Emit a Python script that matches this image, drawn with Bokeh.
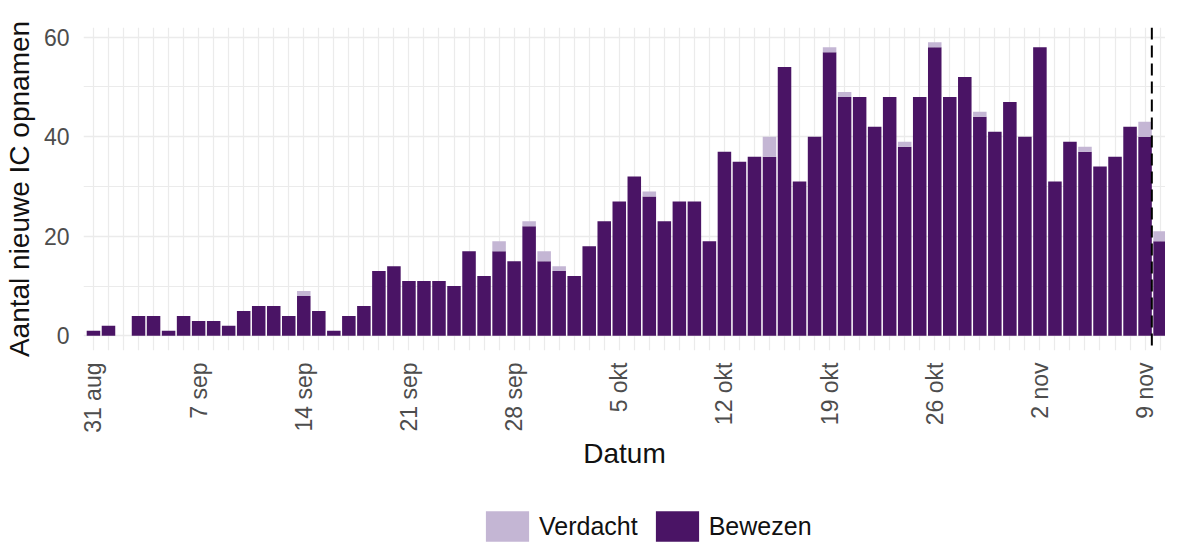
import math
import pandas as pd
from bokeh.plotting import figure
from bokeh.layouts import column
from bokeh.models import (ColumnDataSource, FixedTicker, Range1d, Span, Legend,
                          LegendItem)
from bokeh.embed import file_html
from bokeh.resources import INLINE

# ---- data -------------------------------------------------------------
start_date = "2020-08-31"
dates = pd.date_range(start_date, periods=73, freq="D")

bewezen = [1, 2, 0, 4, 4, 1, 4, 3, 3, 2, 5, 6, 6, 4, 8, 5, 1, 4, 6, 13,
           14, 11, 11, 11, 10, 17, 12, 17, 15, 22, 15, 13,
           12, 18, 23, 27, 32, 28, 23, 27, 27, 19,
           37, 35, 36, 36, 54, 31, 40, 57, 48,
           48, 42, 48, 38, 48, 58, 48, 52, 44, 41, 47, 40, 58, 31, 39, 37,
           34, 36, 42, 40, 19, 3]
verdacht = [0, 0, 0, 0, 0, 0, 0, 0, 0, 0, 0, 0, 0, 0, 1, 0, 0, 0, 0, 0,
            0, 0, 0, 0, 0, 0, 0, 2, 0, 1, 2, 1,
            0, 0, 0, 0, 0, 1, 0, 0, 0, 0,
            0, 0, 0, 4, 0, 0, 0, 1, 1,
            0, 0, 0, 1, 0, 1, 0, 0, 1, 0, 0, 0, 0, 0, 0, 1,
            0, 0, 0, 3, 2, 0]

tick_dates = ["2020-08-31", "2020-09-07", "2020-09-14", "2020-09-21",
              "2020-09-28", "2020-10-05", "2020-10-12", "2020-10-19",
              "2020-10-26", "2020-11-02", "2020-11-09"]
tick_labels = ["31 aug", "7 sep", "14 sep", "21 sep", "28 sep", "5 okt",
               "12 okt", "19 okt", "26 okt", "2 nov", "9 nov"]
cutoff_date = "2020-11-09"

y_ticks = [0, 20, 40, 60]
y_minor = [10, 30, 50]

# ---- derived ----------------------------------------------------------
t0 = pd.Timestamp(start_date)
day_index = [(d - t0).days for d in dates]
tick_pos = [(pd.Timestamp(d) - t0).days for d in tick_dates]
cutoff = (pd.Timestamp(cutoff_date) - t0).days

src = ColumnDataSource(dict(x=day_index, bewezen=bewezen, verdacht=verdacht))

DARK = "#4a1465"
LIGHT = "#c4b6d4"
GRID = "#ebebeb"
FONT = "Liberation Sans"

p = figure(width=1165, height=495, output_backend="svg", toolbar_location=None,
           x_range=Range1d(-0.663, 71.36), y_range=Range1d(-2.95, 61.95),
           min_border_left=79, min_border_right=0, min_border_top=27,
           min_border_bottom=145)
p.outline_line_color = None
p.background_fill_color = "white"

rs = p.vbar_stack(["bewezen", "verdacht"], x="x", width=0.9, color=[DARK, LIGHT],
                  line_color=None, source=src)

# grid
p.xgrid.ticker = FixedTicker(ticks=day_index)
p.xgrid.grid_line_color = GRID
p.xgrid.grid_line_width = 1.2
p.ygrid.ticker = FixedTicker(ticks=y_ticks, minor_ticks=y_minor)
p.ygrid.grid_line_color = GRID
p.ygrid.grid_line_width = 1.6
p.ygrid.minor_grid_line_color = GRID
p.ygrid.minor_grid_line_width = 1.0

# cutoff line
p.add_layout(Span(location=cutoff + 0.45, dimension="height", line_color="black",
                  line_width=2, line_dash="12 6"))

# axes
xa = p.xaxis[0]
xa.ticker = FixedTicker(ticks=tick_pos)
xa.major_label_overrides = {pos: lab for pos, lab in zip(tick_pos, tick_labels)}
xa.major_label_orientation = math.pi / 2
xa.axis_label = "Datum"
ya = p.yaxis[0]
ya.ticker = FixedTicker(ticks=y_ticks)
ya.axis_label = "Aantal nieuwe IC opnamen"
for ax in (xa, ya):
    ax.axis_line_color = None
    ax.major_tick_line_color = None
    ax.minor_tick_line_color = None
    ax.major_label_text_font = FONT
    ax.major_label_text_font_size = "23px"
    ax.major_label_text_color = "#4d4d4d"
    ax.axis_label_text_font = FONT
    ax.axis_label_text_font_size = "28px"
    ax.axis_label_text_font_style = "normal"
    ax.axis_label_text_color = "#111111"
xa.major_label_standoff = 6
xa.axis_label_standoff = 2
ya.major_label_standoff = 8
ya.axis_label_standoff = 6

# ---- legend strip ----------------------------------------------------------
q = figure(width=1165, height=50, output_backend="svg", toolbar_location=None,
           x_range=Range1d(0, 1), y_range=Range1d(0, 1),
           x_axis_location=None, y_axis_location=None,
           min_border_left=0, min_border_right=0, min_border_top=0,
           min_border_bottom=0)
q.outline_line_color = None
q.grid.visible = False
# off-range placeholders so that the legend keys get their colours
r_v = q.vbar(x=[-5], top=[0], width=0.5, color=LIGHT, line_color=None)
r_b = q.vbar(x=[-5], top=[0], width=0.5, color=DARK, line_color=None)

legend = Legend(items=[LegendItem(label="Verdacht", renderers=[r_v]),
                       LegendItem(label="Bewezen", renderers=[r_b])],
                orientation="horizontal", location=(397, 0),
                glyph_width=54, glyph_height=38, label_standoff=5, spacing=12,
                padding=0, margin=0, border_line_color=None,
                background_fill_alpha=0,
                label_text_font=FONT, label_text_font_size="25px",
                label_text_color="#111111")
q.add_layout(legend, "center")

layout = column(p, q, spacing=0)
open("out.html", "w").write(file_html(layout, INLINE))
